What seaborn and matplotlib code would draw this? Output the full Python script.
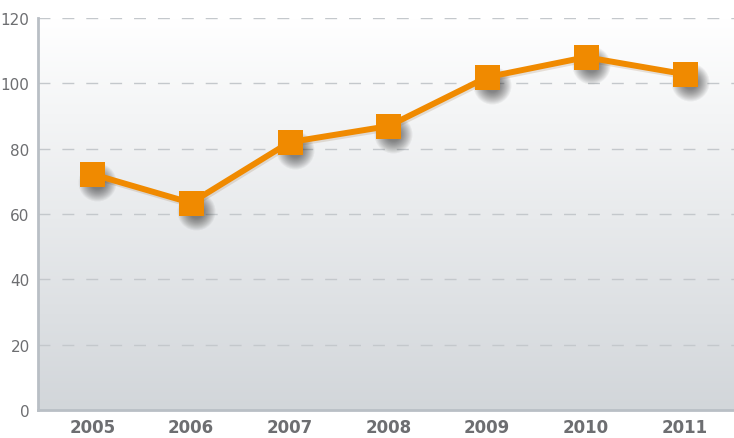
import numpy as np
import pandas as pd
import matplotlib
matplotlib.use("Agg")
import matplotlib.pyplot as plt
import matplotlib.transforms as mtransforms
import seaborn as sns

years = ["2005", "2006", "2007", "2008", "2009", "2010", "2011"]
values = [72.2, 63.4, 82.0, 86.9, 101.9, 108.0, 102.8]
y_ticks = [0, 20, 40, 60, 80, 100, 120]

df = pd.DataFrame({"year": years, "value": values, "pos": np.arange(len(years))})

sns.set_style("white")
fig = plt.figure(figsize=(7.34, 4.39), dpi=100)
ax = fig.add_axes([38 / 734, 1 - 411 / 439, 1 - 38 / 734, (411 - 19) / 439])

# background gradient: white at top, grey-blue at bottom
grad = np.linspace(1, 0, 256).reshape(-1, 1)
top = np.array([1.0, 1.0, 1.0])
bot = np.array([0xd2, 0xd6, 0xda]) / 255
img = grad[..., None] * top + (1 - grad[..., None]) * bot
ax.imshow(img, extent=[0, 1, 0, 1], transform=ax.transAxes, aspect="auto", zorder=0)

for t in y_ticks[1:]:
    ax.axhline(t, color="#c4c8cc", lw=1, dashes=(8.6, 8.6), zorder=1)

# soft drop shadow behind the markers (stacked translucent blobs)
off = mtransforms.offset_copy(ax.transData, fig=fig, x=5, y=-8, units="dots")
for px in np.arange(38, 12, -2):
    ax.plot(df["pos"], df["value"], ls="none", marker="o", ms=px * 0.72,
            mfc="#1a1a1a", mec="none", alpha=0.05, transform=off, zorder=2)
off2 = mtransforms.offset_copy(ax.transData, fig=fig, x=1, y=-2, units="dots")
ax.plot(df["pos"], df["value"], color="#7a4a10", lw=4.5, alpha=0.15,
        transform=off2, zorder=2)

sns.lineplot(data=df, x="pos", y="value", ax=ax, color="#f08a00", lw=4.3,
             marker="s", markersize=18, markeredgewidth=0, zorder=3)

ax.set_xlim(-0.55, 6.5)
ax.set_ylim(0, 120)
ax.set_xticks(df["pos"])
ax.set_xticklabels(years, fontsize=12, fontweight="bold", color="#6d6e71")
ax.set_yticks(y_ticks)
ax.set_yticklabels([str(t) for t in y_ticks], fontsize=11, color="#6d6e71")
ax.tick_params(axis="both", length=0, pad=6)
ax.set_xlabel("")
ax.set_ylabel("")

for side in ["top", "right"]:
    ax.spines[side].set_visible(False)
for side in ["left", "bottom"]:
    ax.spines[side].set_color("#b9bfc5")
    ax.spines[side].set_linewidth(2)

fig.savefig("out.png", dpi=100)
